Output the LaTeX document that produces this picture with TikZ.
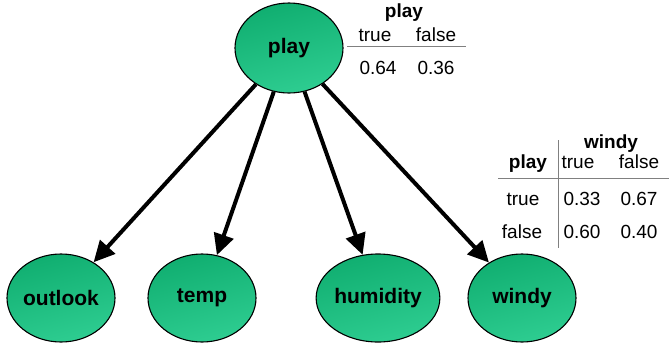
\documentclass[tikz,border=0pt]{standalone}
\usepackage{fontspec}
\setmainfont{Liberation Sans}
\usetikzlibrary{shapes.geometric,arrows.meta}
\definecolor{nodetop}{RGB}{16,174,112}
\definecolor{nodebot}{RGB}{46,205,145}
\definecolor{rulegray}{RGB}{128,128,128}
\tikzset{
  bnode/.style={ellipse, draw=black, line width=1.1pt, inner sep=0pt,
    minimum width=108pt, minimum height=88pt,
    top color=nodetop, bottom color=nodebot, shading angle=15,
    font=\fontsize{21}{24}\selectfont\bfseries},
  arr/.style={line width=4pt, -{Triangle[length=21pt,width=20pt]}},
  cell/.style={anchor=base, inner sep=0pt, font=\fontsize{19}{22}\selectfont},
  hcell/.style={cell, font=\fontsize{19}{22}\selectfont\bfseries},
  tabrule/.style={draw=rulegray, line width=0.9pt}
}
\begin{document}
\begin{tikzpicture}[x=1pt,y=-1pt]
\useasboundingbox (0,0) rectangle (669,343);

% network nodes
\node[bnode, minimum height=90pt] (play) at (289,48) {play};
\node[bnode] (outlook)  at (61,298)  {outlook};
\node[bnode] (temp)     at (202,298) {temp};
\node[bnode] (humidity) at (378,298) {humidity};
\node[bnode] (windy)    at (522,298) {windy};

% edges
\foreach \c in {outlook,temp,humidity,windy}
  \draw[arr] (play) -- (\c);

% prior table for play
\node[hcell] (pH)  at (404,17) {play};
\node[cell]  (pT)  at (375,41) {true};
\node[cell]  (pF)  at (436,41) {false};
\coordinate (pRl) at (347,46);
\coordinate (pRr) at (466,46);
\draw[tabrule] (pRl) -- (pRr);
\node[cell]  (pV1) at (378,74) {0.64};
\node[cell]  (pV2) at (436,74) {0.36};

% conditional table for windy given play
\node[hcell] (wH)  at (611,148) {windy};
\node[hcell] (wP)  at (528,168) {play};
\node[cell]  (wT)  at (578,168) {true};
\node[cell]  (wF)  at (639,168) {false};
\coordinate (wRl) at (498,178);
\coordinate (wRr) at (669,178);
\coordinate (wVt) at (558,140);
\coordinate (wVb) at (558,248);
\draw[tabrule] (wRl) -- (wRr);
\draw[tabrule] (wVt) -- (wVb);
\node[cell]  (r1)  at (523,205) {true};
\node[cell]  (r1a) at (582,205) {0.33};
\node[cell]  (r1b) at (639,205) {0.67};
\node[cell]  (r2)  at (522,238) {false};
\node[cell]  (r2a) at (582,238) {0.60};
\node[cell]  (r2b) at (639,238) {0.40};
\end{tikzpicture}
\end{document}
